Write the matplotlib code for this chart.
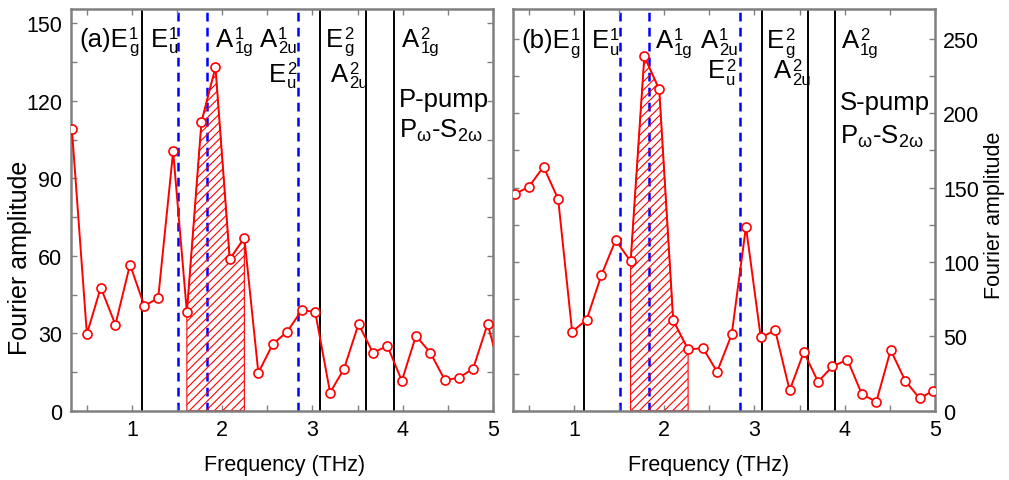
import numpy as np
import matplotlib
matplotlib.use("Agg")
import matplotlib.pyplot as plt
from matplotlib.ticker import MultipleLocator

plt.rcParams['font.family'] = ['Liberation Sans', 'DejaVu Sans']
plt.rcParams['mathtext.fontset'] = 'custom'
plt.rcParams['mathtext.rm'] = 'Liberation Sans'
plt.rcParams['mathtext.it'] = 'Liberation Sans'
plt.rcParams['hatch.linewidth'] = 0.8

# (a) P-pump, Pw-S2w
freq_a = [0.334, 0.50, 0.654, 0.816, 0.978, 1.136, 1.29, 1.456, 1.608, 1.77,
          1.925, 2.083, 2.245, 2.40, 2.56, 2.72, 2.88, 3.03, 3.195, 3.35,
          3.51, 3.67, 3.83, 3.99, 4.146, 4.307, 4.466, 4.62, 4.78, 4.94, 5.10]
amp_a = [109, 29.7, 47.7, 33.3, 56.6, 40.6, 43.6, 100.4, 38.1, 111.9,
         133, 58.7, 66.9, 14.7, 25.8, 30.6, 38.9, 38.3, 7, 16.3,
         33.6, 22.4, 25.1, 11.6, 29, 22.4, 11.9, 12.7, 16.3, 33.6, 13]

# (b) S-pump, Pw-S2w
freq_b = [0.343, 0.50, 0.663, 0.825, 0.98, 1.141, 1.304, 1.462, 1.628, 1.78,
          1.945, 2.10, 2.265, 2.43, 2.586, 2.748, 2.906, 3.07, 3.23, 3.39,
          3.547, 3.705, 3.864, 4.03, 4.19, 4.35, 4.51, 4.67, 4.83, 4.98]
amp_b = [145.6, 150.5, 164, 142.3, 53.1, 61.2, 91.2, 114.7, 100.4, 238.2,
         216, 60.7, 41.2, 42.1, 26.2, 51.3, 123.7, 49.3, 54, 13.7,
         39.4, 19.5, 29.8, 34.3, 11.2, 6, 40.8, 20.2, 8.3, 13.4]

# index range of the hatched A1g^1 band
hatch_start, hatch_end = 8, 12

# phonon lines (THz)
raman_lines = [1.107, 3.088, 3.593, 3.898]
ir_lines = [1.505, 1.836, 2.838]

# mode labels: (base, subscript, superscript, x in THz, y in axes fraction)
modes_a = [
    ('(a)E', 'g', '1', 0.415, 0.909),
    ('E', 'u', '1', 1.205, 0.909),
    ('A', '1g', '1', 1.935, 0.909),
    ('A', '2u', '1', 2.415, 0.909),
    ('E', 'u', '2', 2.52, 0.8215),
    ('E', 'g', '2', 3.15, 0.909),
    ('A', '2u', '2', 3.205, 0.8215),
    ('A', '1g', '2', 3.995, 0.909),
]
modes_b = [
    ('(b)E', 'g', '1', 0.415, 0.906),
    ('E', 'u', '1', 1.20, 0.906),
    ('A', '1g', '1', 1.905, 0.906),
    ('A', '2u', '1', 2.41, 0.906),
    ('E', 'u', '2', 2.485, 0.83),
    ('E', 'g', '2', 3.14, 0.906),
    ('A', '2u', '2', 3.215, 0.83),
    ('A', '1g', '2', 3.97, 0.906),
]
# configuration text: (pump, probe, x in THz, y pump, y probe)
config_a = ('P-pump', r'P$_\mathrm{\omega}$-S$_\mathrm{2\omega}$', 3.955, 0.759, 0.683)
config_b = ('S-pump', r'P$_\mathrm{\omega}$-S$_\mathrm{2\omega}$', 3.945, 0.752, 0.668)

RED = '#ff0000'
BLUE = '#0000ff'
GRAY = '#808080'
FS = 15.5
FS_ANN = 18.5
FS_SUB = 12

fig = plt.figure(figsize=(10.09, 4.81), dpi=100)
ax_a = fig.add_axes([0.070, 0.144, 0.4186, 0.835])
ax_b = fig.add_axes([0.508, 0.144, 0.4186, 0.835])


def mode_label(ax, base, sub, sup, x, y):
    t = ax.text(x, y, base, transform=ax.get_xaxis_transform(),
                fontsize=FS_ANN, ha='left', va='baseline', zorder=4)
    ax.annotate(sup, xy=(1, 1), xycoords=t, xytext=(0.6, 0.3),
                textcoords='offset points', fontsize=FS_SUB,
                ha='left', va='top', zorder=4)
    ax.annotate(sub, xy=(1, 0), xycoords=t, xytext=(0.6, -1.2),
                textcoords='offset points', fontsize=FS_SUB,
                ha='left', va='baseline', zorder=4)


def draw_panel(ax, freq, amp, modes, config, ymax, ymajor, yminor):
    for x in raman_lines:
        ax.axvline(x, color='black', lw=1.4, zorder=1)
    for x in ir_lines:
        ax.axvline(x, color=BLUE, lw=1.8, ls=(0, (3.5, 2.5)), zorder=1)

    f = np.array(freq)
    a = np.array(amp)
    sl = slice(hatch_start, hatch_end + 1)
    ax.fill_between(f[sl], 0, a[sl], facecolor='none', edgecolor=RED,
                    hatch='////', lw=0.8, zorder=2)

    ax.plot(f, a, '-o', color=RED, lw=1.4, ms=6.5, mfc='white',
            mec=RED, mew=1.2, zorder=3)

    for m in modes:
        mode_label(ax, *m)
    pump, probe, cx, y1, y2 = config
    tr = ax.get_xaxis_transform()
    ax.text(cx, y1, pump, transform=tr, fontsize=FS_ANN, va='baseline', zorder=4)
    ax.text(cx, y2, probe, transform=tr, fontsize=FS_ANN, va='baseline', zorder=4)

    ax.set_xlim(0.32, 5.0)
    ax.set_ylim(0, ymax)
    ax.xaxis.set_major_locator(MultipleLocator(1))
    ax.xaxis.set_minor_locator(MultipleLocator(0.5))
    ax.yaxis.set_major_locator(MultipleLocator(ymajor))
    ax.yaxis.set_minor_locator(MultipleLocator(yminor))
    ax.tick_params(which='both', direction='in', length=4, width=1,
                   color=GRAY, top=True, right=True, labelsize=FS, pad=6)
    for sp in ax.spines.values():
        sp.set_color(GRAY)
        sp.set_linewidth(1.8)
    ax.set_xlabel('Frequency (THz)', fontsize=FS)


draw_panel(ax_a, freq_a, amp_a, modes_a, config_a, 155.5, 30, 15)
draw_panel(ax_b, freq_b, amp_b, modes_b, config_b, 270, 50, 25)

ax_a.set_ylabel('Fourier amplitude', fontsize=18)
ax_a.yaxis.set_label_coords(-0.092, 0.382)
ax_a.xaxis.set_label_coords(0.507, -0.108)

ax_b.tick_params(axis='y', labelleft=False, labelright=True)
ax_b.yaxis.set_label_position('right')
ax_b.set_ylabel('Fourier amplitude', fontsize=FS)
ax_b.yaxis.set_label_coords(1.115, 0.49)
ax_b.xaxis.set_label_coords(0.463, -0.108)

fig.savefig('out.png', dpi=100)
